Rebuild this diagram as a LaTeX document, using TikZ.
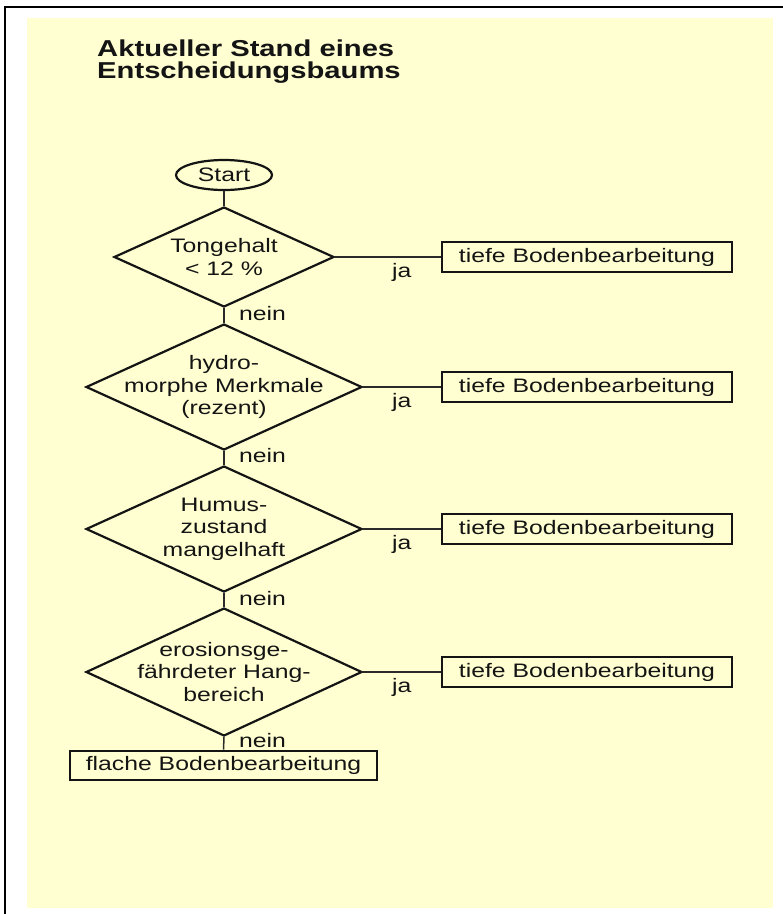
\documentclass[tikz,border=0pt]{standalone}
\usepackage{fontspec}
\setmainfont{Liberation Sans}[FakeStretch=1.27]
\usetikzlibrary{shapes.geometric}
\definecolor{bgyellow}{HTML}{FFFFD2}
\definecolor{ink}{HTML}{141414}
\definecolor{connink}{HTML}{2A2A2A}
\begin{document}
\begin{tikzpicture}[x=1pt,y=-1pt,
  every node/.style={text=ink, font=\fontsize{19.5}{22.5}\selectfont},
  titlest/.style={anchor=base west, inner sep=0pt, font=\bfseries\fontsize{23}{26}\selectfont},
  startst/.style={ellipse, draw=ink, line width=2.2pt, minimum width=96pt, minimum height=30pt, inner sep=0pt},
  dia/.style={diamond, draw=ink, line width=2.2pt, inner sep=0pt, minimum width=276pt, minimum height=126pt},
  diatext/.style={align=center, inner sep=0pt},
  boxst/.style={rectangle, draw=ink, line width=2.6pt, minimum width=290pt, minimum height=30pt, inner sep=0pt},
  conn/.style={draw=connink, line width=1.5pt},
  lbl/.style={anchor=base west, inner sep=0pt}]
\useasboundingbox (0,0) rectangle (783,914);
\fill[bgyellow] (27,18) rectangle (773,908);
\draw[black, line width=2.2pt] (5,914) -- (5,7) -- (783,7);

\node[titlest] (title1) at (97,56) {Aktueller Stand eines};
\node[titlest] (title2) at (97,78) {Entscheidungsbaums};

\node[startst] (start) at (224,175) {Start};

\node[dia, minimum width=220pt, minimum height=100pt] (d1) at (224,257) {};
\node[diatext] (t1) at (224,257) {Tongehalt\\< 12 \%};
\node[dia] (d2) at (224,387) {};
\node[diatext] (t2) at (224,387) {hydro-\\morphe Merkmale\\(rezent)};
\node[dia] (d3) at (224,529) {};
\node[diatext] (t3) at (224,529) {Humus-\\zustand\\mangelhaft};
\node[dia, minimum height=128pt] (d4) at (224,672) {};
\node[diatext] (t4) at (224,672) {erosionsge-\\fährdeter Hang-\\bereich};

\node[boxst] (b1) at (587,257) {tiefe Bodenbearbeitung};
\node[boxst] (b2) at (587,387) {tiefe Bodenbearbeitung};
\node[boxst] (b3) at (587,529) {tiefe Bodenbearbeitung};
\node[boxst] (b4) at (587,672) {tiefe Bodenbearbeitung};
\node[boxst, minimum width=307pt, minimum height=29pt] (bf) at (223.5,765.5) {flache Bodenbearbeitung};

\draw[conn] (start) -- (d1);
\draw[conn] (d1.south) -- (d2.north);
\draw[conn] (d2.south) -- (d3.north);
\draw[conn] (d3.south) -- (d4.north);
\draw[conn] (d4.south) -- (bf.north);
\draw[conn] (d1.east) -- (b1.west);
\draw[conn] (d2.east) -- (b2.west);
\draw[conn] (d3.east) -- (b3.west);
\draw[conn] (d4.east) -- (b4.west);

\node[lbl] (ja1) at (392,277) {ja};
\node[lbl] (ja2) at (392,407) {ja};
\node[lbl] (ja3) at (392,549) {ja};
\node[lbl] (ja4) at (392,692) {ja};
\node[lbl] (n1) at (239,320) {nein};
\node[lbl] (n2) at (239,462) {nein};
\node[lbl] (n3) at (239,605) {nein};
\node[lbl] (n4) at (239,747) {nein};
\end{tikzpicture}
\end{document}
